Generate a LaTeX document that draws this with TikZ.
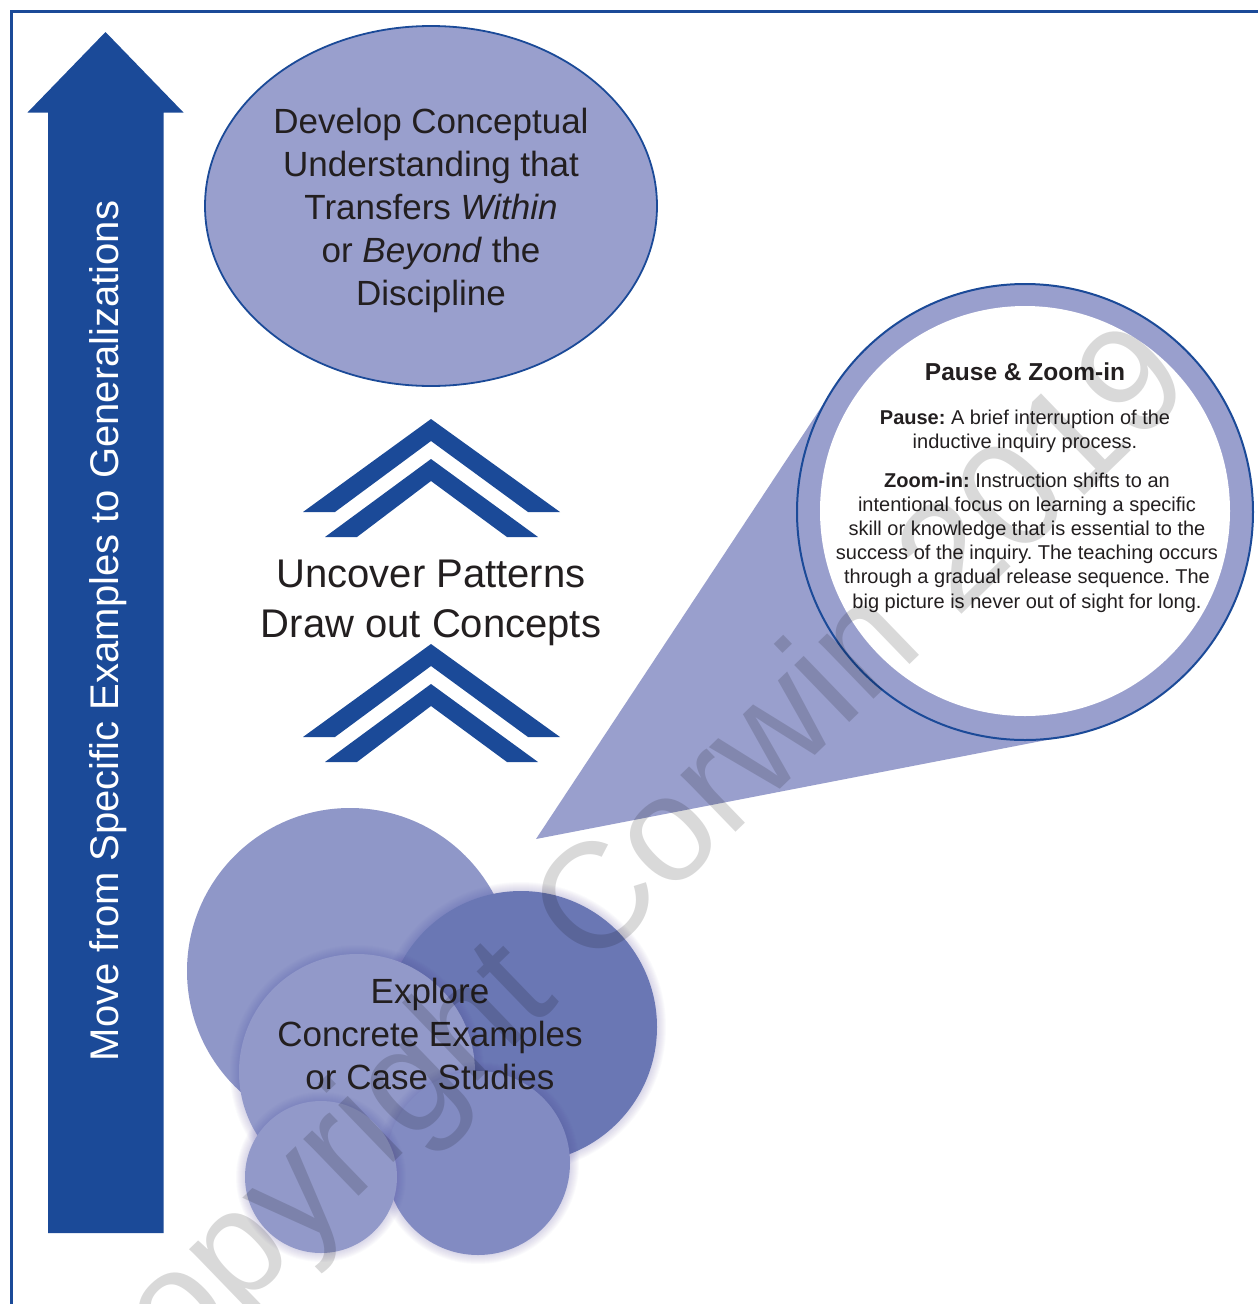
\documentclass[tikz,border=0pt]{standalone}
\usepackage{fontspec}
\setmainfont{Liberation Sans}
\usetikzlibrary{shapes.geometric}
\frenchspacing

\definecolor{navy}{RGB}{27,74,152}
\definecolor{lav}{RGB}{153,159,205}
\definecolor{bubbleA}{RGB}{143,151,200}
\definecolor{bubbleB}{RGB}{106,119,180}
\definecolor{bubbleC}{RGB}{146,153,201}
\definecolor{bubbleD}{RGB}{130,139,194}
\definecolor{ink}{RGB}{35,31,32}
\definecolor{haze}{RGB}{80,70,160}

% soft glow ring around a bubble: centre x, centre y, radius
\newcommand\bubblehalo[3]{%
  \foreach \k in {1,...,9}{\fill[haze, opacity=0.025] (#1,#2) circle[radius={#3+\k}];}}

\begin{document}
\begin{tikzpicture}[x=1pt,y=-1pt,
  every node/.style={inner sep=0pt, outer sep=0pt, text=ink},
  bubble/.style={circle, minimum size=#1},
  bigtext/.style={font=\fontsize{40}{50}\selectfont, align=center},
  midtext/.style={font=\fontsize{35}{43}\selectfont, align=center},
  bodytext/.style={font=\fontsize{20}{24.2}\selectfont, align=center},
]
\useasboundingbox (0,0) rectangle (1258,1304);
\fill[white] (0,0) rectangle (1258,1304);

% frame
\draw[navy, line width=3pt] (11,1304) -- (11,11) -- (1258,11);

% upward arrow with its caption
\fill[navy] (105.5,32) -- (183.5,112.5) -- (163.5,112.5) -- (163.5,1233)
  -- (48,1233) -- (48,112.5) -- (27.5,112.5) -- cycle;
\node[rotate=90, anchor=base, text=white, font=\fontsize{40}{48}\selectfont]
  (trend) at (118,631) {Move from Specific Examples to Generalizations};

% goal ellipse
\node[ellipse, fill=lav, draw=navy, line width=1.8pt,
  minimum width=452pt, minimum height=360pt] (goal) at (431,206) {};
\node[midtext] (goaltext) at (431,210.5)
  {Develop Conceptual\\Understanding that\\Transfers \textit{Within}\\or \textit{Beyond} the\\Discipline};

% double chevrons
\foreach \dy in {0,225}{
  \fill[navy, shift={(0,\dy)}] (303,512) -- (431,419) -- (560,512) -- (528,512)
    -- (431,441) -- (335,512) -- cycle;
  \fill[navy, shift={(0,\dy)}] (325,537) -- (431,459) -- (538,537) -- (507,537)
    -- (431,481) -- (357,537) -- cycle;
}
\node[bigtext] (uncover) at (431,603) {Uncover Patterns\\Draw out Concepts};

% magnifier cone and lens
\coordinate (apex) at (536,839);
\coordinate (tanup) at (834.9,386.5);
\coordinate (tanlow) at (1068.4,735.8);
\fill[lav] (apex) -- (tanup) -- (tanlow) -- cycle;
\node[circle, fill=lav, draw=navy, line width=2pt, minimum size=456pt] (lens) at (1025,512) {};
\node[circle, fill=white, minimum size=410pt] (lensin) at (1025,511) {};
\node[font=\bfseries\fontsize{24.5}{29}\selectfont] (lenstitle) at (1025,372) {Pause \& Zoom-in};
\node[bodytext] (pause) at (1025,431)
  {\textbf{Pause:} A brief interruption of the\\inductive inquiry process.};
\node[bodytext] (zoomin) at (1027,542.5)
  {\textbf{Zoom-in:} Instruction shifts to an\\intentional focus on learning a specific\\skill or knowledge that is essential to the\\success of the inquiry. The teaching occurs\\through a gradual release sequence. The\\big picture is never out of sight for long.};

% cluster of example bubbles
\node[bubble=326pt, fill=bubbleA] (bubA) at (350,971) {};
\bubblehalo{521}{1027}{136}
\node[bubble=272pt, fill=bubbleB] (bubB) at (521,1027) {};
\bubblehalo{357}{1072}{118}
\node[bubble=236pt, fill=bubbleC] (bubC) at (357,1072) {};
\bubblehalo{478}{1163}{92}
\node[bubble=184pt, fill=bubbleD] (bubD) at (478,1163) {};
\bubblehalo{321}{1177}{76}
\node[bubble=152pt, fill=bubbleC] (bubE) at (321,1177) {};
\node[midtext] (explore) at (430,1034) {Explore\\Concrete Examples\\or Case Studies};

% watermark
\node[rotate=44, anchor=base, font=\fontsize{150}{150}\selectfont,
  text=black, text opacity=0.15] (mark) at (648,917) {Copyright Corwin 2019};
\end{tikzpicture}
\end{document}
